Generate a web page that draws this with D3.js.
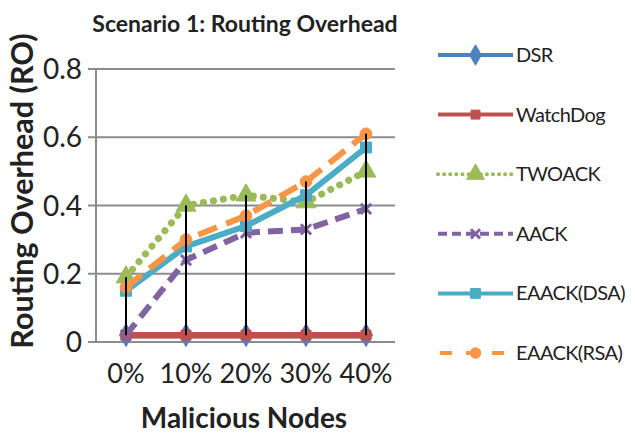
<!DOCTYPE html>
<html><head><meta charset="utf-8">
<script src="https://cdn.jsdelivr.net/npm/d3@7"></script>
<style>body{margin:0;background:#fff}svg{display:block}text{font-family:Lato,"Open Sans",sans-serif}</style>
</head><body>
<svg id="c" width="635" height="438"></svg>
<script>
const categories = ["0%","10%","20%","30%","40%"];
const seriesNames = ["DSR","WatchDog","TWOACK","AACK","EAACK(DSA)","EAACK(RSA)"];
const dsr = [0.02,0.02,0.02,0.02,0.02];
const watchdog = [0.02,0.02,0.02,0.02,0.02];
const twoack = [0.19,0.40,0.43,0.41,0.50];
const aack = [0.02,0.24,0.32,0.33,0.39];
const eaackDsa = [0.15,0.28,0.34,0.43,0.57];
const eaackRsa = [0.16,0.30,0.37,0.47,0.61];
const yTicks = [0,0.2,0.4,0.6,0.8];
const title = "Scenario 1: Routing Overhead";
const xTitle = "Malicious Nodes";
const yTitle = "Routing Overhead (RO)";

const seriesValues = [dsr,watchdog,twoack,aack,eaackDsa,eaackRsa];
const colors = ["#4F81BD","#C0504D","#9BBB59","#8064A2","#4BACC6","#F79646"];
const dashes = [null,null,"0.1 10","15 8",null,"20 10"];
const symbols = [d3.symbolDiamond,d3.symbolSquare,d3.symbolTriangle,d3.symbolX,d3.symbolSquare,d3.symbolCircle];
const symSizes = [150,100,170,70,120,110];
const widths = [6,6.5,7,6,6,6];

const svg = d3.select("#c");
const x = d3.scaleBand().domain(categories).range([96,396]);
const y = d3.scaleLinear().domain([0,0.8]).range([342,69]);
const cx = c => x(c)+x.bandwidth()/2;

// grid
svg.append("g").selectAll("line").data(yTicks).join("line")
  .attr("x1",88).attr("x2",395).attr("y1",d=>y(d)).attr("y2",d=>y(d))
  .attr("stroke","#8c8c8c").attr("stroke-width",2);
svg.append("line").attr("x1",96).attr("x2",96).attr("y1",y(0.8)).attr("y2",y(0))
  .attr("stroke","#8c8c8c").attr("stroke-width",2);

// y ticks
svg.append("g").selectAll("text").data(yTicks).join("text")
  .attr("x",82).attr("y",d=>y(d)+10).attr("text-anchor","end")
  .attr("font-size",28).attr("fill","#222").text(d=>d===0?"0":d3.format(".1f")(d));
// x ticks
svg.append("g").selectAll("text").data(categories).join("text")
  .attr("x",d=>cx(d)).attr("y",383).attr("text-anchor","middle")
  .attr("font-size",27).attr("fill","#222").text(d=>d);

// series
const line = d3.line().x((d,i)=>cx(categories[i])).y(d=>y(d));
seriesValues.forEach((vals,s)=>{
  const g = svg.append("g");
  g.append("path").attr("d",line(vals)).attr("fill","none")
    .attr("stroke",colors[s]).attr("stroke-width",widths[s])
    .attr("stroke-linecap",s===2?"round":"butt")
    .attr("stroke-dasharray",dashes[s]);
  g.selectAll("path.m").data(vals).join("path").attr("class","m")
    .attr("transform",(d,i)=>`translate(${cx(categories[i])},${y(d)})`)
    .attr("d",d3.symbol().type(symbols[s]).size(symSizes[s]))
    .attr("fill",colors[s]).attr("stroke",colors[s]).attr("stroke-width",s===3?3:1);
});

// high-low lines
svg.append("g").selectAll("line").data(categories).join("line")
  .attr("x1",d=>cx(d)).attr("x2",d=>cx(d))
  .attr("y1",(d,i)=>y(d3.min(seriesValues,v=>v[i])))
  .attr("y2",(d,i)=>y(d3.max(seriesValues,v=>v[i])))
  .attr("stroke","#000").attr("stroke-width",2);

// titles
svg.append("text").attr("x",245).attr("y",32).attr("text-anchor","middle")
  .attr("font-size",23).attr("font-weight","bold").attr("fill","#222").text(title);
svg.append("text").attr("x",244).attr("y",428).attr("text-anchor","middle")
  .attr("font-size",28).attr("font-weight","bold").attr("fill","#222").text(xTitle);
svg.append("text").attr("transform","translate(33,191) rotate(-90)").attr("text-anchor","middle")
  .attr("font-size",30.5).attr("font-weight","bold").attr("fill","#222").text(yTitle);

// legend
const lg = svg.append("g");
seriesNames.forEach((n,s)=>{
  const ly = 55 + s*59.6;
  lg.append("line").attr("x1",438).attr("x2",513).attr("y1",ly).attr("y2",ly)
    .attr("stroke",colors[s]).attr("stroke-width",4)
    .attr("stroke-linecap",s===2?"round":"butt")
    .attr("stroke-dasharray",s===2?"0.1 6":s===3?"9 5":s===5?"12 14":null)
    .attr("stroke-dashoffset",s===5?-2:0);
  lg.append("path").attr("transform",`translate(475.5,${ly})`)
    .attr("d",d3.symbol().type(symbols[s]).size(symSizes[s]*0.8))
    .attr("fill",colors[s]).attr("stroke",colors[s]).attr("stroke-width",s===3?3:1);
  lg.append("text").attr("x",516).attr("y",ly+7).attr("font-size",20)
    .attr("letter-spacing",-0.6).attr("fill","#222").text(n);
});
</script>
</body></html>
